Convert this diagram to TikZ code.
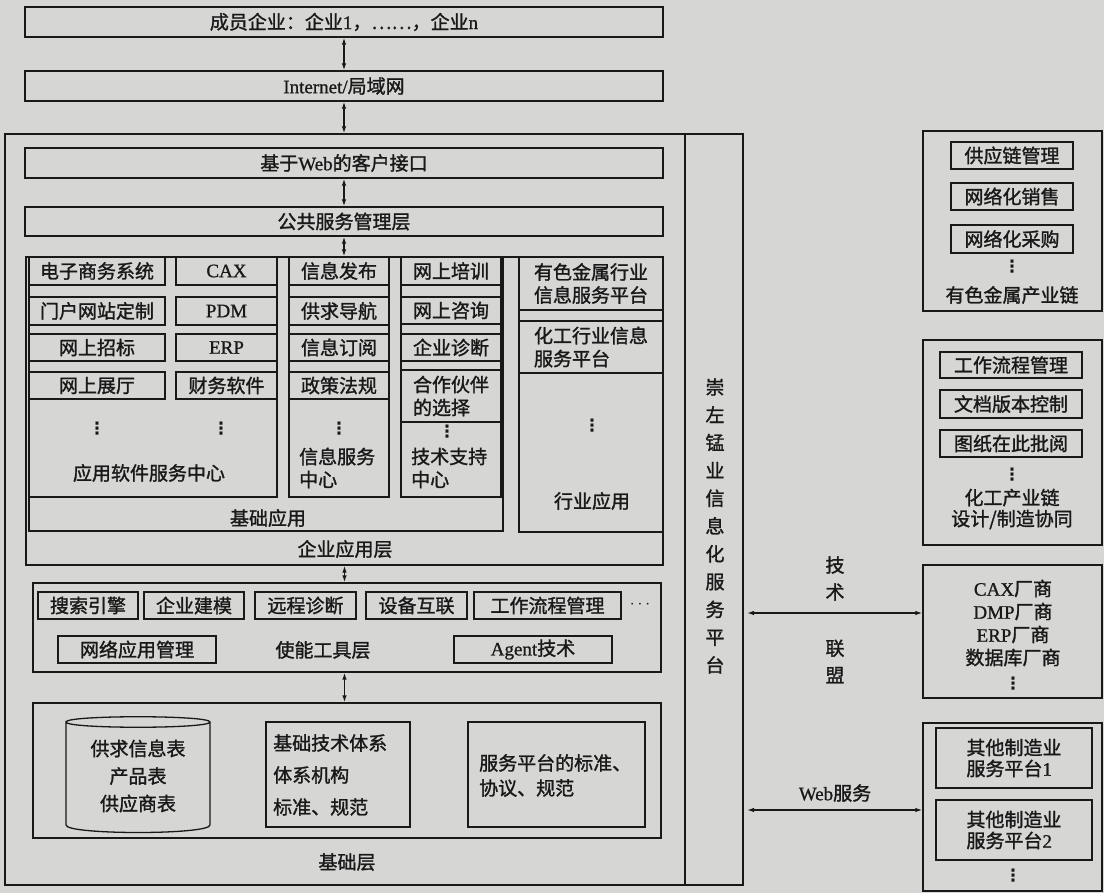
\documentclass[tikz,border=0pt]{standalone}
\usepackage{fontspec}
\setmainfont{Noto Sans CJK SC}[FakeBold=1.4]
\newfontfamily\latf{Liberation Serif}[FakeBold=1]
\newfontfamily\dvf{DejaVu Sans}
\newcommand\lt[1]{{\latf #1}}
\usetikzlibrary{arrows.meta}
\definecolor{bgc}{RGB}{214,214,212}
\definecolor{linec}{RGB}{25,25,25}
\newcommand\fs{\fontsize{19}{23}\selectfont}
\tikzset{
  box/.style={draw=linec, line width=1.3pt, inner sep=0pt, align=center, font=\fs, text=linec},
  lbl/.style={inner sep=0pt, align=center, font=\fs, text=linec},
  vd/.style={inner sep=0pt, font={\dvf\bfseries\fontsize{17}{17}\selectfont}, text=linec},
  dbl/.style={draw=linec, line width=1.3pt, {Latex[length=7pt,width=4.5pt]}-{Latex[length=7pt,width=4.5pt]}},
}
\newcommand\bx[6][]{\node[box,minimum width={(#5-#3)*1pt},minimum height={(#6-#4)*1pt},#1] (#2) at ({(#3+#5)/2},{(#4+#6)/2})}
\begin{document}
\begin{tikzpicture}[x=1pt,y=-1pt]
\fill[bgc] (0,0) rectangle (1104,893);
\useasboundingbox (0,0) rectangle (1104,893);
% top
\bx{mem}{25}{7}{663}{37} {成员企业：企业\lt{1}，……，企业\lt{n}};
\bx{inet}{25}{71}{663}{101} {\lt{Internet/}局域网};
\bx{outer}{5}{134}{743}{885} {};
\bx{plat}{685}{134}{743}{885} {};
\node[lbl,font={\fontsize{19}{27.8}\selectfont}] (platt) at (715,526) {崇\\左\\锰\\业\\信\\息\\化\\服\\务\\平\\台};
\bx{web}{25}{148}{663}{178} {基于\lt{Web}的客户接口};
\bx{pub}{25}{207}{663}{236} {公共服务管理层};
% enterprise application layer
\bx{ent}{26}{257}{663}{565} {};
\bx{base}{29}{257}{503}{531} {};
\bx{soft}{29}{257}{277}{497} {};
\bx{ecom}{29}{257}{165}{285} {电子商务系统};
\bx{portal}{29}{297}{165}{325} {门户网站定制};
\bx{bid}{29}{334}{165}{361} {网上招标};
\bx{hall}{29}{372}{165}{399} {网上展厅};
\bx{cax}{176}{257}{277}{285} {\lt{CAX}};
\bx{pdm}{176}{297}{277}{325} {\lt{PDM}};
\bx{erp}{176}{334}{277}{361} {\lt{ERP}};
\bx{fin}{176}{372}{277}{399} {财务软件};
\node[vd] (d1) at (97,429) {⋮};
\node[vd] (d2) at (221,429) {⋮};
\node[lbl] (softt) at (149,473) {应用软件服务中心};
\bx{info}{289}{257}{389}{497} {};
\bx{fb}{289}{257}{389}{285} {信息发布};
\bx{dh}{289}{297}{389}{325} {供求导航};
\bx{dy}{289}{334}{389}{361} {信息订阅};
\bx{zc}{289}{372}{389}{399} {政策法规};
\node[vd] (d3) at (339,429) {⋮};
\node[lbl,anchor=west,align=left] (infot) at (299,468) {信息服务\\中心};
\bx{tech}{401}{257}{501}{497} {};
\bx{px}{401}{257}{501}{285} {网上培训};
\bx{zx}{401}{297}{501}{324} {网上咨询};
\bx{zd}{401}{334}{501}{361} {企业诊断};
\bx[align=left]{hz}{401}{370}{501}{422} {合作伙伴\\的选择};
\node[vd] (d4) at (447,432) {⋮};
\node[lbl,anchor=west,align=left] (techt) at (411,468) {技术支持\\中心};
\node[lbl] (baset) at (268,518) {基础应用};
\bx{ind}{519}{257}{663}{532} {};
\bx[align=left]{ys}{519}{257}{663}{310} {有色金属行业\\信息服务平台};
\bx[align=left]{hg}{519}{321}{663}{373} {化工行业信息\\服务平台};
\node[vd] (d5) at (592,426) {⋮};
\node[lbl] (indt) at (592,501) {行业应用};
\node[lbl] (entt) at (345,549) {企业应用层};
% tool layer
\bx{tool}{33}{583}{661}{672} {};
\bx{ss}{38}{592}{138}{619} {搜索引擎};
\bx{jm}{144}{592}{244}{619} {企业建模};
\bx{yc}{255}{592}{356}{619} {远程诊断};
\bx{sb}{366}{592}{467}{619} {设备互联};
\bx{gz}{474}{592}{621}{619} {工作流程管理};
\node[lbl] (d6) at (640,605) {$\cdots$};
\bx{wl}{58}{636}{216}{663} {网络应用管理};
\bx{ag}{454}{636}{612}{663} {\lt{Agent}技术};
\node[lbl] (toolt) at (323,650) {使能工具层};
% foundation layer
\bx{fnd}{33}{703}{661}{838} {};
\draw[draw=linec,line width=1.3pt] (66,722) .. controls (66,715) and (210,715) .. (210,722) .. controls (210,729) and (66,729) .. (66,722) -- (66,825) .. controls (66,835) and (210,835) .. (210,825) -- (210,722);
\node[lbl,font={\fontsize{19}{27.5}\selectfont}] (cylt) at (138,776) {供求信息表\\产品表\\供应商表};
\bx{jc}{266}{722}{410}{827} {};
\node[lbl,anchor=west,align=left,font={\fontsize{19}{32}\selectfont}] (jct) at (273,775) {基础技术体系\\体系机构\\标准、规范};
\bx{bz}{468}{722}{645}{827} {};
\node[lbl,anchor=west,align=left,font={\fontsize{19}{25}\selectfont}] (bzt) at (479,775.5) {服务平台的标准、\\协议、规范};
\node[lbl] (fndt) at (347,862) {基础层};
% vertical arrows
\draw[dbl] (mem.south) -- (inet.north);
\draw[dbl] (inet.south) -- (inet.south |- outer.north);
\draw[dbl] (web.south) -- (pub.north);
\draw[dbl] (pub.south) -- (pub.south |- ent.north);
\draw[dbl] (ent.south) -- (ent.south |- tool.north);
\draw[dbl] (ent.south |- tool.south) -- (ent.south |- fnd.north);
% right side
\bx{ysc}{923}{131}{1102}{311} {};
\bx{gyl}{951}{142}{1073}{169} {供应链管理};
\bx{xs}{951}{183}{1073}{210} {网络化销售};
\bx{cg}{951}{225}{1073}{253} {网络化采购};
\node[vd] (d7) at (1012,267) {⋮};
\node[lbl] (ysct) at (1012,295) {有色金属产业链};
\bx{hgc}{923}{340}{1102}{545} {};
\bx{lc}{940}{352}{1082}{378} {工作流程管理};
\bx{wd}{940}{390}{1082}{418} {文档版本控制};
\bx{tz}{940}{430}{1082}{457} {图纸在此批阅};
\node[vd] (d8) at (1012,475) {⋮};
\node[lbl,font={\fontsize{19}{21}\selectfont}] (hgct) at (1012,509) {化工产业链\\设计/制造协同};
\bx{ven}{923}{565}{1102}{698} {};
\node[lbl,font={\fontsize{19}{23}\selectfont}] (vent) at (1013,623) {\lt{CAX}厂商\\\lt{DMP}厂商\\\lt{ERP}厂商\\数据库厂商};
\node[vd] (d9) at (1013,684) {⋮};
\bx{oth}{923}{723}{1102}{891} {};
\bx[align=left,font={\fontsize{19}{21}\selectfont}]{o1}{936}{728}{1092}{788} {其他制造业\\服务平台\lt{1}};
\bx[align=left,font={\fontsize{19}{21}\selectfont}]{o2}{936}{800}{1092}{860} {其他制造业\\服务平台\lt{2}};
\node[vd] (d10) at (1013,876) {⋮};
% horizontal arrows
\coordinate (ta) at (747,613);
\draw[dbl] (ta) -- (ta -| ven.west);
\coordinate (wa) at (747,810);
\draw[dbl] (wa) -- (wa -| oth.west);
\node[lbl,font={\fontsize{19}{27}\selectfont}] (js) at (835,578.5) {技\\术};
\node[lbl,font={\fontsize{19}{27}\selectfont}] (lm) at (835,661.5) {联\\盟};
\node[lbl] (ws) at (835,793) {\lt{Web}服务};
\end{tikzpicture}
\end{document}
